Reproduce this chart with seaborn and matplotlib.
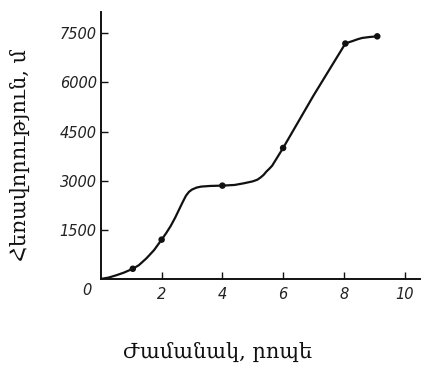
import matplotlib
matplotlib.use("Agg")
import matplotlib.pyplot as plt
import seaborn as sns
import pandas as pd

# measured points (markers)
point_t = [1.05, 2.0, 4.0, 6.0, 8.05, 9.1]
point_d = [310, 1200, 2850, 4000, 7190, 7410]

# smooth curve
curve_t = [0.0, 0.25, 0.5, 0.75, 1.05, 1.25, 1.5, 1.75, 2.0, 2.15, 2.3, 2.45, 2.58, 2.7, 2.8, 2.9,
           3.0, 3.15, 3.3, 3.6, 4.0, 4.4, 4.7, 5.0, 5.15, 5.26, 5.36, 5.45, 5.55, 5.64, 5.8,
           6.0, 7.0, 8.05, 8.2, 8.3, 8.45, 8.6, 8.85, 9.1]
curve_d = [0, 40, 110, 190, 310, 420, 630, 880, 1200, 1400, 1620, 1880, 2130, 2360, 2540, 2660,
           2730, 2790, 2820, 2840, 2850, 2870, 2920, 2980, 3030, 3100, 3180, 3280, 3370, 3460, 3700,
           4000, 5600, 7190, 7240, 7270, 7320, 7360, 7390, 7410]

x_ticks = [2, 4, 6, 8, 10]
y_ticks = [1500, 3000, 4500, 6000, 7500]
x_label = "Ժամանակ, րոպե"
y_label = "Հեռավորություն, մ"

sns.set_style("ticks")
plt.rcParams['font.family'] = ['DejaVu Sans']

W, H = 424, 367
fig = plt.figure(figsize=(W / 100, H / 100), dpi=100)
ax = fig.add_axes([0.238, 0.240, 0.752, 0.727])

curve = pd.DataFrame({"t": curve_t, "d": curve_d})
pts = pd.DataFrame({"t": point_t, "d": point_d})
sns.lineplot(data=curve, x="t", y="d", ax=ax, color="#111111", linewidth=1.6, sort=False)
sns.scatterplot(data=pts, x="t", y="d", ax=ax, color="#111111", s=22, edgecolor="none", zorder=3)

ax.set_xlim(0, 10.5)
ax.set_ylim(0, 8150)
sns.despine(ax=ax)
for side in ("left", "bottom"):
    ax.spines[side].set_linewidth(1.4)
    ax.spines[side].set_color("#111111")

ax.set_xticks(x_ticks)
ax.set_yticks(y_ticks)
ax.set_xticklabels([str(v) for v in x_ticks])
ax.set_yticklabels([str(v) for v in y_ticks])
ax.tick_params(axis="both", direction="in", length=5, width=1.0, colors="#111111",
               labelcolor="#222222", labelsize=10.5)
ax.tick_params(axis="x", pad=6)
ax.tick_params(axis="y", pad=3)
for lab in ax.get_xticklabels() + ax.get_yticklabels():
    lab.set_fontstyle("italic")

ax.text(-0.45, -340, "0", ha="center", va="center", fontsize=10.5, fontstyle="italic",
        color="#222222")

ax.set_xlabel("")
ax.set_ylabel("")
fig.text(218 / W, 1 - 352 / H, x_label, ha="center", va="center",
         family=['DejaVu Serif', 'DejaVu Sans'], fontsize=15, color="#111111")
fig.text(20 / W, 1 - 155 / H, y_label, ha="center", va="center", rotation=90,
         family=['DejaVu Serif', 'DejaVu Sans'], fontsize=15, color="#111111")

fig.savefig("out.png", dpi=100)
